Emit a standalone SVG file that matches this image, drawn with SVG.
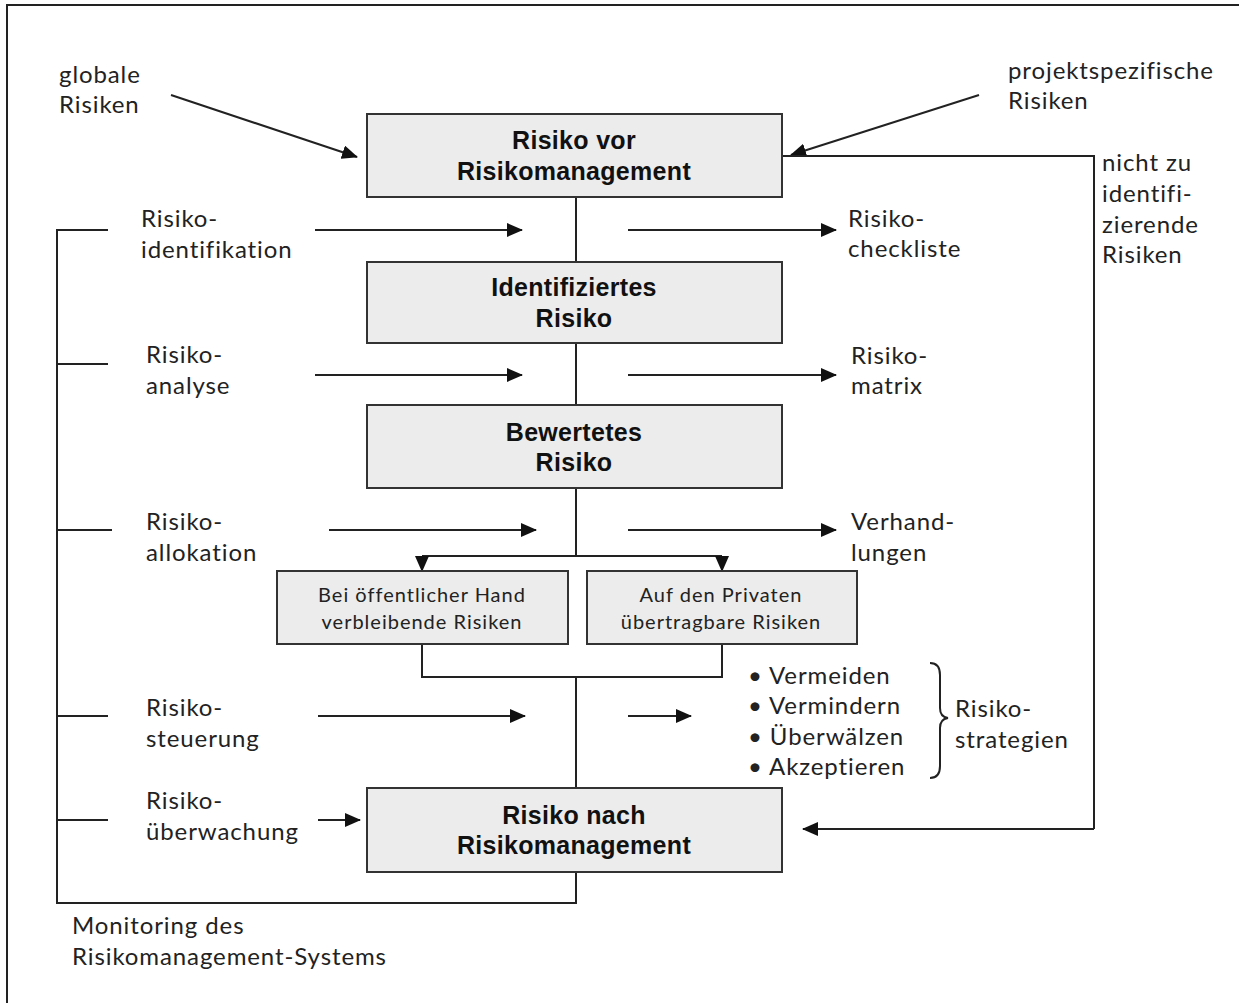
<svg xmlns="http://www.w3.org/2000/svg" width="1239" height="1003" viewBox="0 0 1239 1003">
<defs>
<marker id="ah" markerWidth="16" markerHeight="14" refX="15" refY="7" orient="auto" markerUnits="userSpaceOnUse">
<path d="M0,0 L16,7 L0,14 Z" fill="#111"/>
</marker>
<style>
.ln{stroke:#222;stroke-width:2;fill:none}
.ar{stroke:#222;stroke-width:2;fill:none;marker-end:url(#ah)}
.box{fill:#ececec;stroke:#333;stroke-width:2}
.bt{font-family:"Liberation Sans",Arial,sans-serif;font-weight:bold;font-size:25px;letter-spacing:0.3px;fill:#111;text-anchor:middle}
.st{font-family:"Lato","Open Sans",sans-serif;font-size:20px;letter-spacing:1px;fill:#222;text-anchor:middle}
.lb{font-family:"Lato","Open Sans",sans-serif;font-size:24px;letter-spacing:0.9px;fill:#222}
</style>
</defs>
<rect x="0" y="0" width="1239" height="1003" fill="#fff"/>
<rect x="7" y="5" width="1245" height="1010" fill="none" stroke="#222" stroke-width="2"/>

<g id="connectors">
<line class="ar" x1="171" y1="95" x2="357" y2="157"/>
<line class="ar" x1="979" y1="95" x2="791" y2="155"/>
<polyline class="ln" points="782,156 1094,156 1094,829"/>
<line class="ar" x1="1094" y1="829" x2="803" y2="829"/>
<line class="ln" x1="576" y1="197" x2="576" y2="262"/>
<line class="ln" x1="576" y1="343" x2="576" y2="405"/>
<line class="ln" x1="576" y1="488" x2="576" y2="556"/>
<line class="ln" x1="422" y1="556" x2="722" y2="556"/>
<line class="ar" x1="422" y1="556" x2="422" y2="571"/>
<line class="ar" x1="722" y1="556" x2="722" y2="571"/>
<polyline class="ln" points="422,644 422,677 722,677 722,644"/>
<line class="ln" x1="576" y1="677" x2="576" y2="788"/>
<polyline class="ln" points="576,872 576,903 57,903 57,230 108,230"/>
<line class="ln" x1="57" y1="364" x2="108" y2="364"/>
<line class="ln" x1="57" y1="530" x2="112" y2="530"/>
<line class="ln" x1="57" y1="716" x2="108" y2="716"/>
<line class="ln" x1="57" y1="820" x2="108" y2="820"/>
<line class="ar" x1="315" y1="230" x2="522" y2="230"/>
<line class="ar" x1="628" y1="230" x2="836" y2="230"/>
<line class="ar" x1="315" y1="375" x2="522" y2="375"/>
<line class="ar" x1="628" y1="375" x2="836" y2="375"/>
<line class="ar" x1="329" y1="530" x2="536" y2="530"/>
<line class="ar" x1="628" y1="530" x2="836" y2="530"/>
<line class="ar" x1="318" y1="716" x2="525" y2="716"/>
<line class="ar" x1="628" y1="716" x2="691" y2="716"/>
<line class="ar" x1="318" y1="820" x2="360" y2="820"/>
<path class="ln" d="M930,663 Q940,663 940,675 L940,708 Q940,717 948,718 Q940,719 940,728 L940,766 Q940,778 930,778"/>
</g>

<g id="n1"><rect class="box" x="367" y="114" width="415" height="83"/><text class="bt" x="574" y="149">Risiko vor</text><text class="bt" x="574" y="180">Risikomanagement</text></g>
<g id="n2"><rect class="box" x="367" y="262" width="415" height="81"/><text class="bt" x="574" y="296">Identifiziertes</text><text class="bt" x="574" y="327">Risiko</text></g>
<g id="n3"><rect class="box" x="367" y="405" width="415" height="83"/><text class="bt" x="574" y="441">Bewertetes</text><text class="bt" x="574" y="471">Risiko</text></g>
<g id="n4"><rect class="box" x="277" y="571" width="291" height="73"/><text class="st" x="422" y="602">Bei öffentlicher Hand</text><text class="st" x="422" y="629">verbleibende Risiken</text></g>
<g id="n5"><rect class="box" x="587" y="571" width="270" height="73"/><text class="st" x="721" y="602">Auf den Privaten</text><text class="st" x="721" y="629">übertragbare Risiken</text></g>
<g id="n6"><rect class="box" x="367" y="788" width="415" height="84"/><text class="bt" x="574" y="824">Risiko nach</text><text class="bt" x="574" y="854">Risikomanagement</text></g>

<g id="labels" class="lb">
<text x="59" y="83">globale</text><text x="59" y="113">Risiken</text>
<text x="1008" y="79">projektspezifische</text><text x="1008" y="109">Risiken</text>
<text x="1102" y="171">nicht zu</text><text x="1102" y="202">identifi-</text><text x="1102" y="233">zierende</text><text x="1102" y="263">Risiken</text>
<text x="141" y="227">Risiko-</text><text x="141" y="258">identifikation</text>
<text x="848" y="227">Risiko-</text><text x="848" y="257">checkliste</text>
<text x="146" y="363">Risiko-</text><text x="146" y="394">analyse</text>
<text x="851" y="364">Risiko-</text><text x="851" y="394">matrix</text>
<text x="146" y="530">Risiko-</text><text x="146" y="561">allokation</text>
<text x="851" y="530">Verhand-</text><text x="851" y="561">lungen</text>
<text x="146" y="716">Risiko-</text><text x="146" y="747">steuerung</text>
<text x="146" y="809">Risiko-</text><text x="146" y="840">überwachung</text>
<text x="748" y="684">• Vermeiden</text>
<text x="748" y="714">• Vermindern</text>
<text x="748" y="745">• Überwälzen</text>
<text x="748" y="775">• Akzeptieren</text>
<text x="955" y="717">Risiko-</text><text x="955" y="748">strategien</text>
<text x="72" y="934">Monitoring des</text><text x="72" y="965">Risikomanagement-Systems</text>
</g>
</svg>
